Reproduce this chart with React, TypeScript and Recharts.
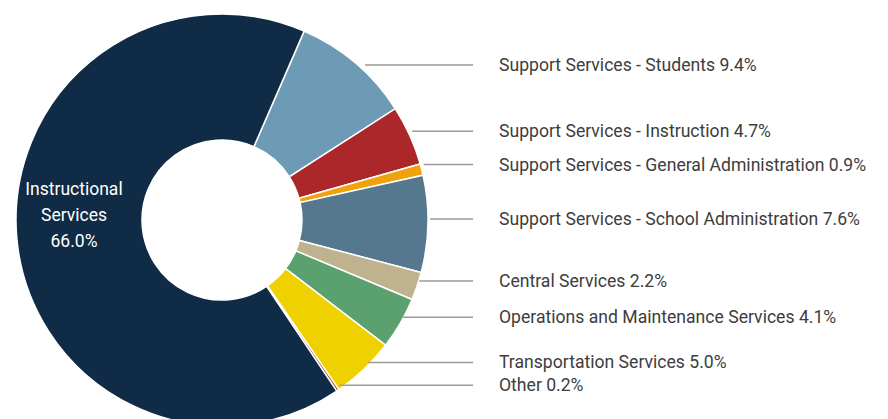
import { PieChart, Pie, Cell } from 'recharts'

const CATEGORIES = [
  'Support Services - Students',
  'Support Services - Instruction',
  'Support Services - General Administration',
  'Support Services - School Administration',
  'Central Services',
  'Operations and Maintenance Services',
  'Transportation Services',
  'Other',
  'Instructional Services',
]

const SHARES = [9.4, 4.7, 0.9, 7.6, 2.2, 4.1, 5.0, 0.2, 66.0]

const SLICE_COLORS = [
  '#6d9bb6',
  '#ab272a',
  '#f0a20c',
  '#56788f',
  '#bfb28e',
  '#5ba170',
  '#f0d100',
  '#9c4318',
  '#0f2b45',
]

const data = CATEGORIES.map((name, i) => ({ name, value: SHARES[i] }))

const RAD = Math.PI / 180
const CX = 217
const CY = 215
const OUTER = 206
const INNER = 80
const LINE_END_X = 473
const TEXT_X = 499
const FONT = 'Roboto, "Noto Sans", sans-serif'

function renderLabel(props: any) {
  const { midAngle, startAngle, endAngle, index, value, name } = props
  const pct = `${Number(value).toFixed(1)}%`

  // the big slice gets its label inside the ring, on the left
  if (index === data.length - 1) {
    const x = CX - (INNER + OUTER) / 2
    const words = String(name).split(' ')
    const lines = [words[0], words.slice(1).join(' '), pct]
    return (
      <text
        x={x}
        y={CY}
        fill="#ffffff"
        fontFamily={FONT}
        fontSize={17.5}
        textAnchor="middle"
        dominantBaseline="central"
      >
        {lines.map((t, i) => (
          <tspan key={t} x={x} dy={i === 0 ? -26 : 26} dominantBaseline="central">
            {t}
          </tspan>
        ))}
      </text>
    )
  }

  // leader sits at the middle of the slice's outer chord
  const half = Math.abs(endAngle - startAngle) / 2
  const y = CY - OUTER * Math.cos(half * RAD) * Math.sin(midAngle * RAD)
  const dy = y - CY
  const edgeX = CX + Math.sqrt(Math.max(OUTER * OUTER - dy * dy, 0))
  return (
    <g>
      <line x1={edgeX + 7} y1={y} x2={LINE_END_X} y2={y} stroke="#9a9a9a" strokeWidth={1.5} />
      <text
        x={TEXT_X}
        y={y}
        fill="#3d3d3d"
        fontFamily={FONT}
        fontSize={17.6}
        dominantBaseline="central"
      >
        {`${name} ${pct}`}
      </text>
    </g>
  )
}

export default function App() {
  return (
    <div
      style={{
        position: 'absolute',
        left: 0,
        top: 0,
        width: 888,
        height: 419,
        background: '#ffffff',
      }}
    >
      <PieChart width={888} height={419}>
        <Pie
          data={data}
          dataKey="value"
          nameKey="name"
          cx={CX}
          cy={CY}
          innerRadius={INNER}
          outerRadius={OUTER}
          startAngle={66.5}
          endAngle={-293.5}
          stroke="#ffffff"
          strokeWidth={1.5}
          label={renderLabel}
          labelLine={false}
          isAnimationActive={false}
        >
          {data.map((d, i) => (
            <Cell key={d.name} fill={SLICE_COLORS[i]} />
          ))}
        </Pie>
      </PieChart>
    </div>
  )
}
